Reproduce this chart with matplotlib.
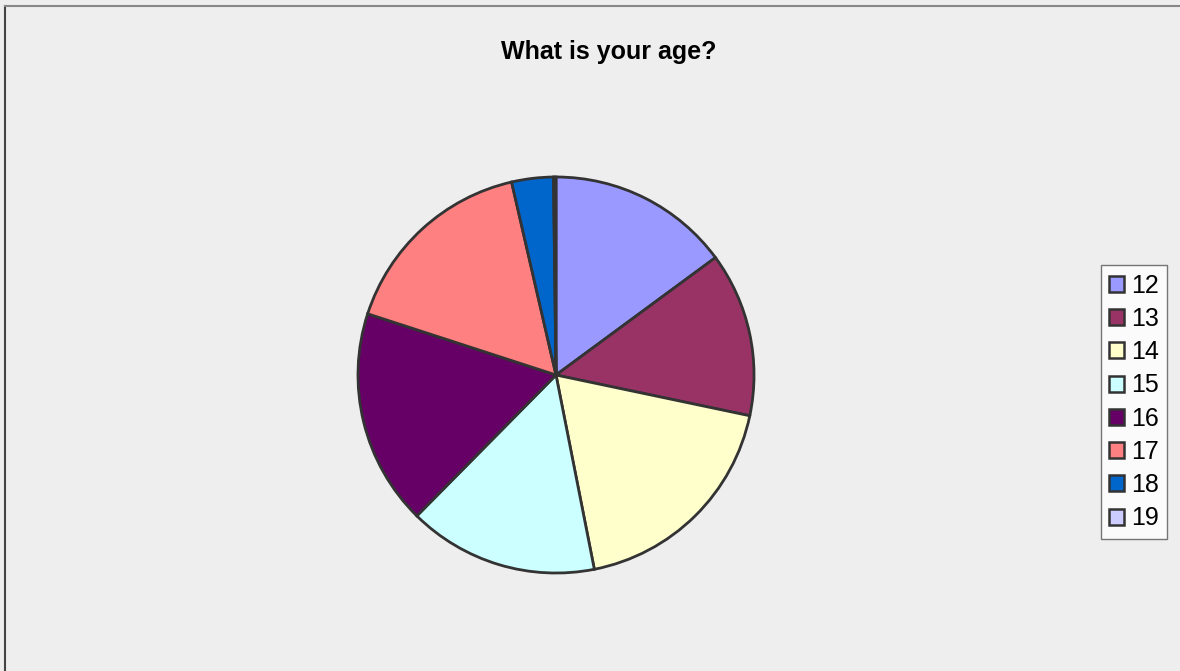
import matplotlib
matplotlib.use("Agg")
import matplotlib.pyplot as plt
from matplotlib.patches import Patch

labels = ["12", "13", "14", "15", "16", "17", "18", "19"]
values = [14.9, 13.4, 18.6, 15.5, 17.6, 16.4, 3.4, 0.2]
colors = ["#9999FF", "#993366", "#FFFFCC", "#CCFFFF", "#660066", "#FF8080", "#0066CC", "#CCCCFF"]
title = "What is your age?"

W, H = 1180, 671
fig = plt.figure(figsize=(W / 100, H / 100), dpi=100)
fig.patch.set_facecolor("#EEEEEE")

# frame lines (left and top)
fig.add_artist(plt.Line2D([5 / W, 5 / W], [0, 1 - 6 / H], color="#444444", lw=1.5))
fig.add_artist(plt.Line2D([5 / W, 1], [1 - 6 / H, 1 - 6 / H], color="#888888", lw=1.5))

cx, cy, r = 556, 375, 200
ax = fig.add_axes([(cx - r) / W, (H - cy - r) / H, 2 * r / W, 2 * r / H])
ax.pie(values, colors=colors, startangle=90, counterclock=False,
       wedgeprops=dict(edgecolor="#333333", linewidth=2.0))
ax.set_xlim(-1.01, 1.01)
ax.set_ylim(-1.01, 1.01)
ax.set_aspect("equal")
ax.axis("off")

fig.text(609 / W, 1 - 52 / H, title, ha="center", va="center",
         fontsize=18, fontweight="bold", family="Liberation Sans")

handles = [Patch(facecolor=c, edgecolor="#333333", linewidth=1.8) for c in colors]
leg = fig.legend(handles, labels, loc="center", bbox_to_anchor=(1134 / W, 1 - 402 / H),
                 prop=dict(family="Liberation Sans", size=18), frameon=True,
                 fancybox=False, handlelength=0.6, handleheight=0.6, handletextpad=0.25,
                 labelspacing=0.37, borderpad=0.35, borderaxespad=0)
leg.get_frame().set_edgecolor("#555555")
leg.get_frame().set_linewidth(1)
leg.get_frame().set_facecolor("white")

fig.savefig("out.png", dpi=100, facecolor=fig.get_facecolor())
